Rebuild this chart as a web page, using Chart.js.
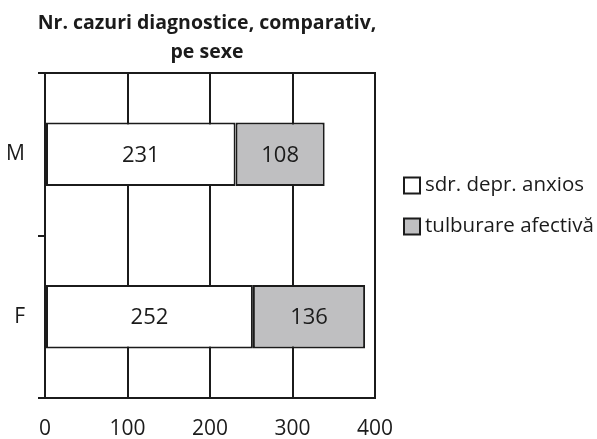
<!DOCTYPE html>
<html>
<head>
<meta charset="utf-8">
<script src="https://cdn.jsdelivr.net/npm/chart.js@4"></script>
<style>
  html, body { margin: 0; padding: 0; background: #fff; overflow: hidden; }
  #wrap { width: 597px; height: 439px; }
</style>
</head>
<body>
<div id="wrap"><canvas id="c" width="597" height="439"></canvas></div>
<script>
const titleLines = ["Nr. cazuri diagnostice, comparativ,", "pe sexe"];
const categories = ["M", "F"];
const seriesNames = ["sdr. depr. anxios", "tulburare afectivă"];
const anxiosValues = [231, 252];
const afectivaValues = [108, 136];
const xTicks = [0, 100, 200, 300, 400];

const INK = "#1b1b1b";
const FONT = "'Open Sans', 'Noto Sans', sans-serif";

const titlePlugin = {
  id: "twoLineTitle",
  afterDraw(chart) {
    const ctx = chart.ctx, a = chart.chartArea;
    const cx = (a.left + a.right) / 2 - 3;
    ctx.save();
    ctx.fillStyle = INK;
    ctx.font = "bold 19.5px " + FONT;
    ctx.textAlign = "center";
    ctx.textBaseline = "alphabetic";
    ctx.fillText(titleLines[0], cx, 29);
    ctx.fillText(titleLines[1], cx, 58);
    ctx.restore();
  }
};

const valueLabels = {
  id: "valueLabels",
  afterDatasetsDraw(chart) {
    const ctx = chart.ctx;
    ctx.save();
    ctx.fillStyle = INK;
    ctx.font = "22px " + FONT;
    ctx.textAlign = "center";
    ctx.textBaseline = "middle";
    chart.data.datasets.forEach((ds, i) => {
      chart.getDatasetMeta(i).data.forEach((bar, j) => {
        const p = bar.getProps(["x", "y", "base"], true);
        ctx.fillText(String(ds.data[j]), (p.x + p.base) / 2, p.y + 1);
      });
    });
    ctx.restore();
  }
};

const sideLegend = {
  id: "sideLegend",
  afterDraw(chart) {
    const ctx = chart.ctx, a = chart.chartArea;
    const x0 = a.right + 29;
    const yc = (a.top + a.bottom) / 2;
    const ys = [yc - 50, yc - 9];
    ctx.save();
    ctx.font = "20.5px " + FONT;
    ctx.textBaseline = "middle";
    ctx.textAlign = "left";
    chart.data.datasets.forEach((ds, i) => {
      const y = ys[i];
      ctx.fillStyle = ds.backgroundColor;
      ctx.fillRect(x0, y - 8, 16, 16);
      ctx.lineWidth = 2;
      ctx.strokeStyle = INK;
      ctx.strokeRect(x0, y - 8, 16, 16);
      ctx.fillStyle = INK;
      ctx.fillText(ds.label, x0 + 21, y);
    });
    ctx.restore();
  }
};

new Chart(document.getElementById("c"), {
  type: "bar",
  data: {
    labels: categories,
    datasets: [
      { label: seriesNames[0], data: anxiosValues, backgroundColor: "#ffffff",
        borderColor: INK, borderWidth: 2, borderSkipped: false,
        barPercentage: 0.39, categoryPercentage: 1 },
      { label: seriesNames[1], data: afectivaValues, backgroundColor: "#bfbfc1",
        borderColor: INK, borderWidth: 2, borderSkipped: false,
        barPercentage: 0.39, categoryPercentage: 1 }
    ]
  },
  options: {
    indexAxis: "y",
    responsive: false,
    animation: false,
    devicePixelRatio: 1,
    layout: { padding: { top: 73, right: 222, left: 0, bottom: 0 } },
    plugins: {
      legend: { display: false },
      title: { display: false },
      tooltip: { enabled: false }
    },
    scales: {
      x: {
        stacked: true,
        min: 0, max: 400,
        afterBuildTicks(scale) { scale.ticks = xTicks.map(v => ({ value: v })); },
        afterFit(scale) { scale.height = 41; },
        grid: { color: INK, lineWidth: 2, drawTicks: false },
        border: { display: true, color: INK, width: 2 },
        ticks: { color: INK, font: { family: FONT, size: 21 }, padding: 18 }
      },
      xTop: {
        type: "linear",
        position: "top",
        axis: "x",
        min: 0, max: 400,
        afterFit(scale) { scale.height = 0; },
        grid: { drawOnChartArea: false, drawTicks: false },
        border: { display: true, color: INK, width: 2 },
        ticks: { display: false }
      },
      y: {
        stacked: true,
        afterFit(scale) { scale.width = 45; },
        grid: { drawOnChartArea: false, drawTicks: true, tickLength: 7, color: INK, lineWidth: 2, offset: true },
        border: { display: true, color: INK, width: 2 },
        ticks: { color: INK, font: { family: FONT, size: 21 }, padding: 13 }
      }
    }
  },
  plugins: [titlePlugin, valueLabels, sideLegend]
});
</script>
</body>
</html>
